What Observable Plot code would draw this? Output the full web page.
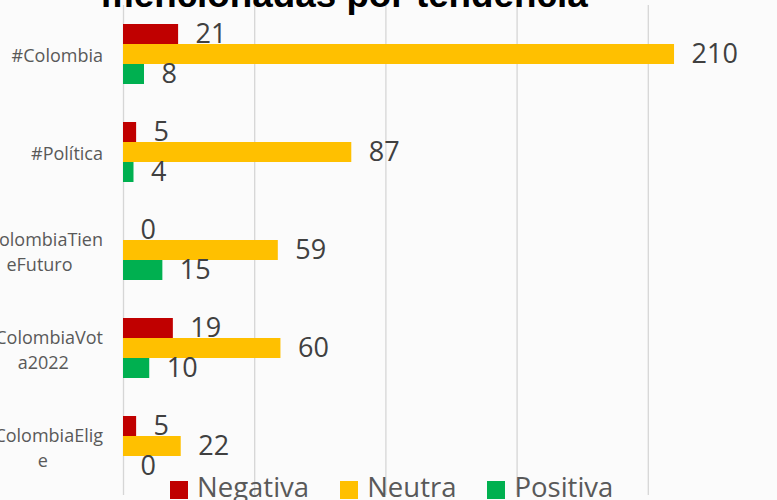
<!DOCTYPE html>
<html>
<head>
<meta charset="utf-8">
<script src="https://cdn.jsdelivr.net/npm/d3@7"></script>
<script src="https://cdn.jsdelivr.net/npm/@observablehq/plot@0.6"></script>
<style>
  html, body { margin: 0; padding: 0; background: #fbfbfb; overflow: hidden; }
  #wrap { position: relative; width: 777px; height: 500px; overflow: hidden; }
  #title { position: absolute; left: 101px; top: -23px; font: bold 36.8px "Liberation Sans", Arial, sans-serif; line-height: 36px; color: #000; white-space: nowrap; }
  #chart { position: absolute; left: 0; top: 0; }
  #legend { position: absolute; left: 170px; top: 470px; }
  #legend > div { font: 27.5px "Open Sans", sans-serif !important; line-height: 27px !important; color: #595959 !important; margin: 0 !important; }
  #legend span { margin-right: 31px !important; }
  #legend svg { margin-right: 9px !important; position: relative; top: 3.5px; }
</style>
</head>
<body>
<div id="wrap">
  <div id="chart"></div>
  <div id="title">mencionadas por tendencia</div>
  <div id="legend"></div>
</div>
<script>
const categories = ["#Colombia", "#Política", "#ColombiaTieneFuturo", "#ColombiaVota2022", "#ColombiaElige"];
const tickLabels = ["#Colombia", "#Política", "#ColombiaTien\neFuturo", "#ColombiaVot\na2022", "#ColombiaElig\ne"];
const seriesNames = ["Negativa", "Neutra", "Positiva"];
const negativa = [21, 5, 0, 19, 5];
const neutra = [210, 87, 59, 60, 22];
const positiva = [8, 4, 15, 10, 0];
const colors = ["#C00000", "#FFC000", "#00B050"];
const xTicks = [0, 50, 100, 150, 200, 250];

const seriesValues = [negativa, neutra, positiva];
const data = [];
categories.forEach((c, i) => {
  seriesNames.forEach((s, j) => data.push({category: c, series: s, value: seriesValues[j][i]}));
});

const labelFont = 18;
const ctx = document.createElement("canvas").getContext("2d");
ctx.font = `${labelFont}px "Open Sans"`;
const labelMarks = categories.map((c, i) => {
  const lines = tickLabels[i].split("\n");
  const w = Math.max(...lines.map(l => ctx.measureText(l).width));
  return Plot.text([{category: c, label: tickLabels[i]}], {
    fy: "category", frameAnchor: "left", text: "label", textAnchor: "middle",
    dx: -(20.5 + w / 2), fontSize: labelFont, lineHeight: 1.36, fill: "#595959"
  });
});

const chart = Plot.plot({
  width: 777, height: 500,
  marginLeft: 123, marginRight: 0, marginTop: 5, marginBottom: 5,
  style: {background: "transparent", fontFamily: "Open Sans", overflow: "visible"},
  x: {domain: [0, 250], range: [123, 779], axis: null},
  y: {domain: seriesNames, paddingInner: 0, paddingOuter: 0.92, axis: null},
  fy: {domain: categories, padding: 0, axis: null},
  color: {domain: seriesNames, range: colors},
  marks: [
    Plot.ruleX(xTicks, {stroke: "#d6d6d6", strokeWidth: 1.3}),
    Plot.barX(data, {x: "value", y: "series", fy: "category", fill: "series"}),
    Plot.text(data, {x: "value", y: "series", fy: "category", text: d => String(d.value),
      dx: 17, textAnchor: "start", fontSize: 27, fill: "#404040"}),
    ...labelMarks
  ]
});
document.getElementById("chart").appendChild(chart);

const legend = Plot.legend({color: {domain: seriesNames, range: colors}, legend: "swatches", swatchSize: 18});
document.getElementById("legend").appendChild(legend);
</script>
</body>
</html>
